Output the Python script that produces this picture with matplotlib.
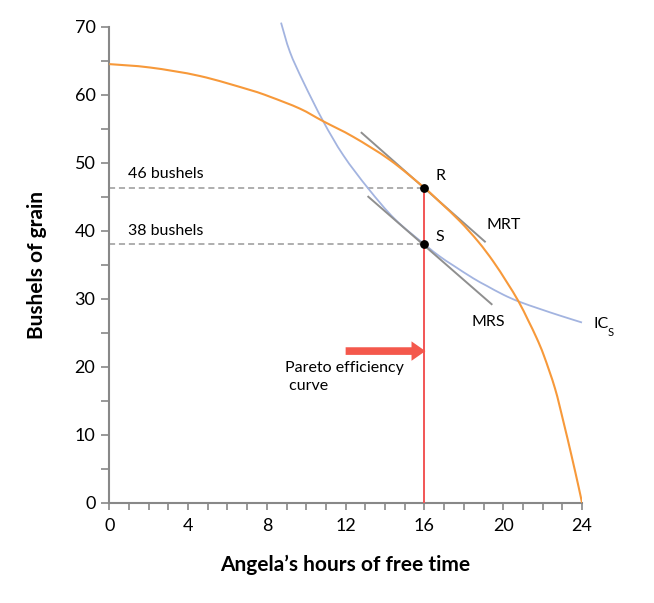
import matplotlib
matplotlib.use("Agg")
import matplotlib.pyplot as plt
from matplotlib.path import Path
from matplotlib.patches import PathPatch
from matplotlib.ticker import MultipleLocator

plt.rcParams['font.family'] = ['Lato', 'DejaVu Sans']

# production possibility frontier
frontier_x = [0, 2.07, 4.6, 7.14, 8.16, 9.68, 10.86, 12.39, 14.25, 16, 16.79, 17.80, 18.73,
              19.49, 20.17, 20.78, 21.27, 21.7, 22.07, 22.63, 23.05, 23.47, 23.83, 24]
frontier_y = [64.5, 64.0, 62.75, 60.7, 59.7, 57.95, 56.1, 53.8, 50.4, 46.3, 44.2, 41.4, 38.4,
              35.5, 32.5, 29.6, 26.8, 24.2, 21.6, 16.8, 12.0, 6.9, 2.3, 0]

# indifference curve IC_S
ic_x = [8.72, 9.17, 9.85, 10.86, 11.88, 13.15, 14.5, 16, 16.79, 17.46, 18.48, 19.16, 20.0,
        20.78, 21.86, 22.9, 24]
ic_y = [70.6, 66.3, 61.9, 56.1, 51.1, 46.2, 41.7, 38.0, 36.2, 34.9, 33.0, 31.9, 30.6,
        29.6, 28.5, 27.5, 26.5]

# tangent lines
mrt_x = [12.81, 19.07]
mrt_y = [54.4, 38.4]
mrs_x = [13.15, 19.41]
mrs_y = [45.0, 29.2]

r_point = (16, 46.3)
s_point = (16, 38.0)


def smooth_path(xs, ys):
    # draw the read points as a chain of bezier segments (catmull-rom style handles)
    pts = list(zip(xs, ys))
    verts = [pts[0]]
    codes = [Path.MOVETO]
    n = len(pts)
    for i in range(n - 1):
        p0 = pts[i - 1] if i > 0 else pts[i]
        p1 = pts[i]
        p2 = pts[i + 1]
        p3 = pts[i + 2] if i + 2 < n else pts[i + 1]
        c1 = (p1[0] + (p2[0] - p0[0]) / 6, p1[1] + (p2[1] - p0[1]) / 6)
        c2 = (p2[0] - (p3[0] - p1[0]) / 6, p2[1] - (p3[1] - p1[1]) / 6)
        verts += [c1, c2, p2]
        codes += [Path.CURVE4] * 3
    return Path(verts, codes)


fig = plt.figure(figsize=(6.54, 6.03), dpi=100)
ax = fig.add_axes([0.1671, 0.1663, 0.7228, 0.7894])

ax.add_patch(PathPatch(smooth_path(frontier_x, frontier_y), fill=False,
                       edgecolor='#f7993a', lw=1.5, zorder=3))
ax.add_patch(PathPatch(smooth_path(ic_x, ic_y), fill=False,
                       edgecolor='#a3b4e0', lw=1.3, zorder=2, clip_on=False))
ax.plot(mrt_x, mrt_y, color='#8f8f8f', lw=1.4, zorder=2)
ax.plot(mrs_x, mrs_y, color='#8f8f8f', lw=1.4, zorder=2)

# dashed guides
ax.plot([0, r_point[0]], [r_point[1], r_point[1]], ls=(0, (4, 2.5)), color='#999999', lw=1.1, zorder=1)
ax.plot([0, s_point[0]], [s_point[1], s_point[1]], ls=(0, (4, 2.5)), color='#999999', lw=1.1, zorder=1)

# Pareto efficiency curve
ax.plot([16, 16], [0, r_point[1]], color='#f25555', lw=1.4, zorder=4)
ax.annotate('', xy=(16.05, 22.3), xytext=(12.0, 22.3),
            arrowprops=dict(arrowstyle='simple,head_length=1.0,head_width=1.4,tail_width=0.55',
                            color='#f4584c', lw=0, shrinkA=0, shrinkB=0), zorder=5)

ax.scatter(*r_point, s=28, color='black', zorder=6)
ax.scatter(*s_point, s=28, color='black', zorder=6)

fs = 11.5
ax.text(0.95, 48.4, '46 bushels', fontsize=fs, va='center', ha='left')
ax.text(0.95, 40.0, '38 bushels', fontsize=fs, va='center', ha='left')
ax.text(16.55, 48.0, 'R', fontsize=fs, va='center', ha='left')
ax.text(16.55, 39.1, 'S', fontsize=fs, va='center', ha='left')
ax.text(19.15, 40.8, 'MRT', fontsize=fs, va='center', ha='left')
ax.text(18.4, 26.6, 'MRS', fontsize=fs, va='center', ha='left')
ax.text(24.6, 26.3, 'IC', fontsize=fs, va='center', ha='left', clip_on=False)
ax.text(25.3, 25.0, 'S', fontsize=8, va='center', ha='left', clip_on=False)
ax.text(8.9, 18.5, 'Pareto efficiency\n curve', fontsize=fs, va='center', ha='left', linespacing=1.3)

ax.set_xlim(0, 24)
ax.set_ylim(0, 70)
ax.spines['top'].set_visible(False)
ax.spines['right'].set_visible(False)
for side in ['left', 'bottom']:
    ax.spines[side].set_color('#888888')
    ax.spines[side].set_linewidth(1.5)

ax.xaxis.set_major_locator(MultipleLocator(4))
ax.xaxis.set_minor_locator(MultipleLocator(1))
ax.yaxis.set_major_locator(MultipleLocator(10))
ax.yaxis.set_minor_locator(MultipleLocator(5))
ax.tick_params(which='both', direction='out', color='#888888', width=1.2, labelsize=13)
ax.tick_params(axis='y', which='both', length=6, pad=4)
ax.tick_params(axis='x', which='both', length=5, pad=6)

ax.set_xlabel('Angela\u2019s hours of free time', fontsize=15, fontweight='bold', labelpad=15)
ax.set_ylabel('Bushels of grain', fontsize=15, fontweight='bold', labelpad=20)

fig.savefig('out.png', dpi=100)
